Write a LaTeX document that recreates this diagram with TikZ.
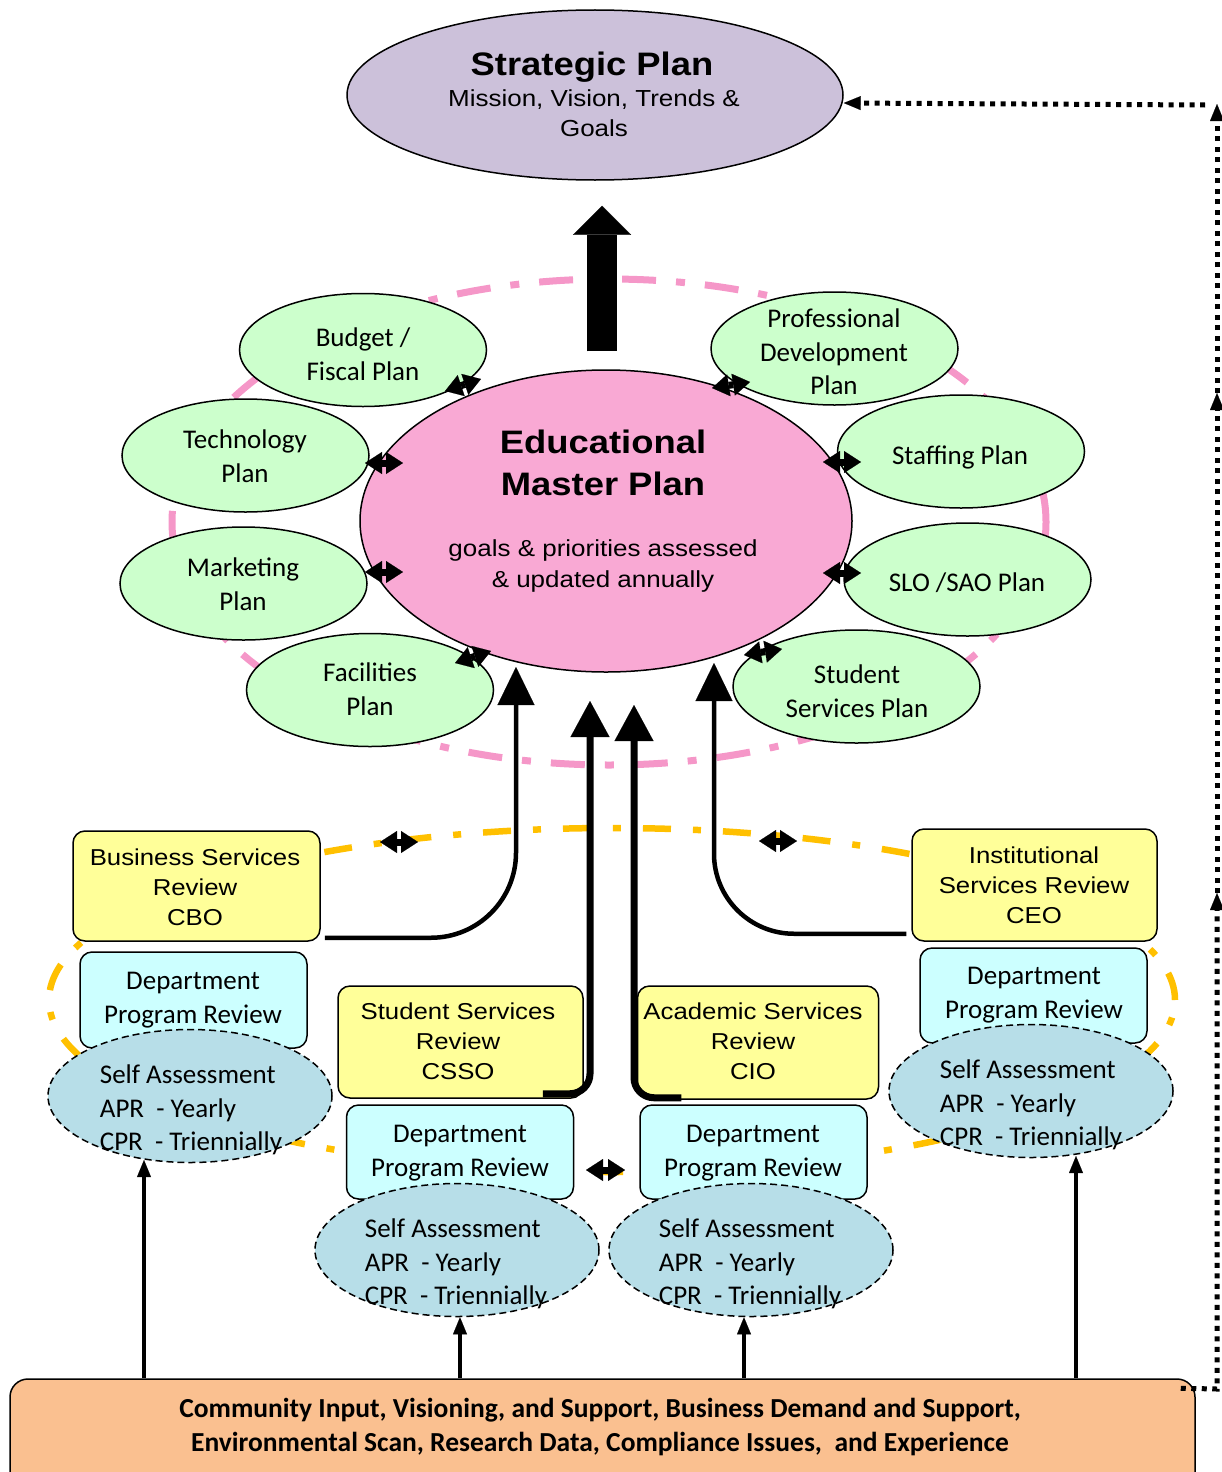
\documentclass[tikz,border=0pt]{standalone}
\usepackage{fontspec}
\setmainfont{Carlito}
\newfontfamily\arw[FakeStretch=1.12]{Liberation Sans}
\usetikzlibrary{arrows.meta,shapes.geometric}
\definecolor{lav}{HTML}{CCC1DA}
\definecolor{empk}{HTML}{F9A9D4}
\definecolor{pdash}{HTML}{F597C8}
\definecolor{grn}{HTML}{CCFFCC}
\definecolor{yel}{HTML}{FFFF99}
\definecolor{cyn}{HTML}{CCFFFF}
\definecolor{sab}{HTML}{B7DEE8}
\definecolor{orf}{HTML}{FAC090}
\definecolor{odash}{HTML}{FFC000}
\tikzset{
  plan/.style={ellipse, draw, fill=grn, line width=1.5pt, minimum width=247pt, minimum height=113pt, inner sep=0pt},
  ptext/.style={font=\fontsize{27}{34}\selectfont, align=center, inner sep=0pt},
  rev/.style={rectangle, rounded corners=12pt, draw, fill=yel, line width=1.5pt, inner sep=0pt},
  rtext/.style={font=\arw\fontsize{23}{30}\selectfont, align=center, inner sep=0pt},
  dept/.style={rectangle, rounded corners=12pt, draw, fill=cyn, line width=1.5pt, inner sep=0pt, minimum width=227pt},
  dtext/.style={font=\fontsize{27}{33.5}\selectfont, align=center, inner sep=0pt},
  sa/.style={ellipse, draw, dash pattern=on 7pt off 4pt, fill=sab, line width=1.5pt, minimum width=284pt, minimum height=133pt, inner sep=0pt},
  satext/.style={font=\fontsize{27}{33.5}\selectfont, align=left, inner sep=0pt},
  dbl/.style={line width=7pt, {Triangle[width=22pt,length=17pt,line width=0.1pt]}-{Triangle[width=22pt,length=17pt,line width=0.1pt]}},
  conn/.style={line width=4.5pt, -{Triangle[width=37pt,length=38pt,line width=0.1pt]}},
  connb/.style={line width=7pt, -{Triangle[width=39pt,length=36pt,line width=0.1pt]}},
  uparr/.style={line width=4pt, -{Triangle[width=14pt,length=17pt,line width=0.1pt]}},
  dotl/.style={line width=5pt, dash pattern=on 5pt off 5.5pt, -{Triangle[width=14pt,length=17pt,line width=0.1pt]}},
  ring/.style={ellipse, inner sep=0pt},
}
\begin{document}
\begin{tikzpicture}[x=1pt,y=-1pt]
\useasboundingbox (0,0) rectangle (1222,1472);
% background rings
\node[ring, draw=pdash, line width=7pt, dash pattern=on 34pt off 20pt on 9pt off 20pt, minimum width=874pt, minimum height=486pt] (pr) at (609,522) {};
\node[ring, draw=odash, line width=6.5pt, dash pattern=on 28pt off 22pt on 8pt off 22pt, minimum width=1126pt, minimum height=344pt] (orr) at (612,1000) {};
% strategic plan
\node[ellipse, draw, fill=lav, line width=1.5pt, minimum width=496pt, minimum height=170pt, inner sep=0pt] (sp) at (595,95) {};
\node[font=\arw\bfseries\fontsize{32.5}{36}\selectfont, inner sep=0pt] (spt) at (592,67) {Strategic Plan};
\node[font=\arw\fontsize{23.2}{30}\selectfont, align=center, inner sep=0pt] (sps) at (594,113) {Mission, Vision, Trends \&\\Goals};
% EMP
\node[ellipse, draw, fill=empk, line width=1.5pt, minimum width=492pt, minimum height=302pt, inner sep=0pt] (emp) at (606,521) {};
\node[font=\arw\bfseries\fontsize{32.5}{42}\selectfont, align=center, inner sep=0pt] (empt) at (603,463) {Educational\\Master Plan};
\node[font=\arw\fontsize{23.2}{31}\selectfont, align=center, inner sep=0pt] (emps) at (603,566) {goals \& priorities assessed\\\& updated annually};
% big arrow
\draw[line width=30pt, -{Triangle[width=58pt,length=29pt,line width=0.1pt]}] ([shift={(-4pt,18pt)}]emp.north) -- ([shift={(7pt,-25pt)}]sp.south);
% plans
\node[plan] (bud) at (363,350) {};
\node[plan] (tec) at (245.5,455.5) {};
\node[plan] (mkt) at (243.5,583.5) {};
\node[plan] (fac) at (370,690) {};
\node[plan] (pdv) at (834.5,348.5) {};
\node[plan] (stf) at (961,451.5) {};
\node[plan] (slo) at (967.5,579.5) {};
\node[plan] (ssp) at (856.5,686.5) {};
\node[ptext] (budt) at (363,354) {Budget /\\Fiscal Plan};
\node[ptext] (tect) at (245,456) {Technology\\Plan};
\node[ptext] (mktt) at (243,584) {Marketing\\Plan};
\node[ptext] (fact) at (370,689) {Facilities\\Plan};
\node[ptext, font=\fontsize{27}{33.5}\selectfont] (pdvt) at (834,352) {Professional\\Development\\Plan};
\node[ptext] (stft) at (960,457) {Staffing Plan};
\node[ptext] (slot) at (967,583) {SLO /SAO Plan};
\node[ptext] (sspt) at (857,691) {Student\\Services Plan};
% double arrows at plans
\coordinate (b1) at (445,391); \coordinate (b2) at (481,379);
\draw[dbl] (b1) -- (b2);
\coordinate (te1) at (365,463); \coordinate (te2) at (403,463);
\draw[dbl] (te1) -- (te2);
\coordinate (mk1) at (365,572); \coordinate (mk2) at (403,572);
\draw[dbl] (mk1) -- (mk2);
\coordinate (fa1) at (455,663); \coordinate (fa2) at (491,651);
\draw[dbl] (fa1) -- (fa2);
\coordinate (pd1) at (712,388); \coordinate (pd2) at (750,382);
\draw[dbl] (pd1) -- (pd2);
\coordinate (st1) at (823,462); \coordinate (st2) at (861,462);
\draw[dbl] (st1) -- (st2);
\coordinate (sl1) at (823,573); \coordinate (sl2) at (861,573);
\draw[dbl] (sl1) -- (sl2);
\coordinate (ss1) at (744,655); \coordinate (ss2) at (782,649);
\draw[dbl] (ss1) -- (ss2);
% double arrows on orange ring
\coordinate (o1) at (380,842); \coordinate (o2) at (418,842);
\draw[dbl] (o1) -- (o2);
\coordinate (o3) at (759,841); \coordinate (o4) at (797,841);
\draw[dbl] (o3) -- (o4);
% review boxes
\node[rev, minimum width=247pt, minimum height=110pt] (bsr) at (196.5,886) {};
\node[rev, minimum width=245pt, minimum height=112pt] (isr) at (1034.5,885) {};
\node[rev, minimum width=245pt, minimum height=112pt] (ssr) at (460.5,1042) {};
\node[rev, minimum width=241pt, minimum height=113pt] (asr) at (758,1042.5) {};
\node[rtext] (bsrt) at (195,887) {Business Services\\Review\\CBO};
\node[rtext] (isrt) at (1034,885) {Institutional\\Services Review\\CEO};
\node[rtext] (ssrt) at (458,1041) {Student Services\\Review\\CSSO};
\node[rtext] (asrt) at (753,1041) {Academic Services\\Review\\CIO};
% department boxes
\node[dept, minimum height=96pt] (d1) at (193.5,1000) {};
\node[dept, minimum height=95pt] (d2) at (1033.5,995.5) {};
\node[dept, minimum height=94pt] (d3) at (460,1152) {};
\node[dept, minimum height=94pt] (d4) at (753.5,1152) {};
\node[dtext] (d1t) at (193,1000) {Department\\Program Review};
\node[dtext] (d2t) at (1034,995) {Department\\Program Review};
\node[dtext] (d3t) at (460,1153) {Department\\Program Review};
\node[dtext] (d4t) at (753,1153) {Department\\Program Review};
% double arrow between middle departments
\coordinate (o5) at (586,1170); \coordinate (o6) at (625,1170);
\draw[dbl] (o5) -- (o6);
% self assessments
\node[sa] (sa1) at (190,1096) {};
\node[sa] (sa2) at (1031,1091) {};
\node[sa] (sa3) at (457,1250) {};
\node[sa] (sa4) at (751,1250) {};
\node[satext] (sa1t) at (191,1110) {Self Assessment\\APR~~- Yearly\\CPR~~- Triennially};
\node[satext] (sa2t) at (1031,1105) {Self Assessment\\APR~~- Yearly\\CPR~~- Triennially};
\node[satext] (sa3t) at (456,1264) {Self Assessment\\APR~~- Yearly\\CPR~~- Triennially};
\node[satext] (sa4t) at (750,1264) {Self Assessment\\APR~~- Yearly\\CPR~~- Triennially};
% connectors to EMP
\coordinate (t1) at (516,667);
\coordinate (t2) at (590,701);
\coordinate (t3) at (634,705);
\coordinate (t4) at (714,663);
\draw[conn, rounded corners=85pt] ([shift={(4pt,4pt)}]bsr.south east) -| (t1);
\draw[conn, rounded corners=80pt] ([shift={(-5pt,8pt)}]isr.south west) -| (t4);
\draw[connb, rounded corners=20pt] ([shift={(-41pt,5pt)}]ssr.south east) -| (t2);
\draw[connb, rounded corners=20pt] ([shift={(44.5pt,2pt)}]asr.south west) -| (t3);
% bottom box
\node[rectangle, rounded corners=18pt, draw, fill=orf, line width=1.5pt, minimum width=1185pt, minimum height=121pt, inner sep=0pt] (bot) at (602.5,1439.5) {};
\node[font=\bfseries\fontsize{27.5}{34}\selectfont, align=center, inner sep=0pt] (bott) at (600,1427) {Community Input, Visioning, and Support, Business Demand and Support,\\Environmental Scan, Research Data, Compliance Issues,~ and Experience};
% arrows from bottom
\coordinate (s1) at (144,1160);
\coordinate (s2) at (1076,1156);
\draw[uparr] (bot.north -| s1) -- (s1);
\draw[uparr] (bot.north -| sa3.south) ++(3pt,0) -- ([xshift=3pt]sa3.south);
\draw[uparr] ([xshift=-7pt]bot.north -| sa4.south) -- ([xshift=-7pt]sa4.south);
\draw[uparr] (bot.north -| s2) -- (s2);
% dotted feedback line
\coordinate (c1) at (1217,1389);
\coordinate (m1) at (1217,893);
\coordinate (m2) at (1217,393);
\coordinate (m3) at (1217,104);
\coordinate (c2) at (1205,105);
\draw[dotl] ([shift={(-15pt,-10pt)}]bot.north east) -- (c1) -- (m1);
\draw[dotl] (m1) -- (m2);
\draw[dotl] (m2) -- (m3);
\draw[dotl] (c2) -- ([yshift=-8pt]sp.east);
\end{tikzpicture}
\end{document}
